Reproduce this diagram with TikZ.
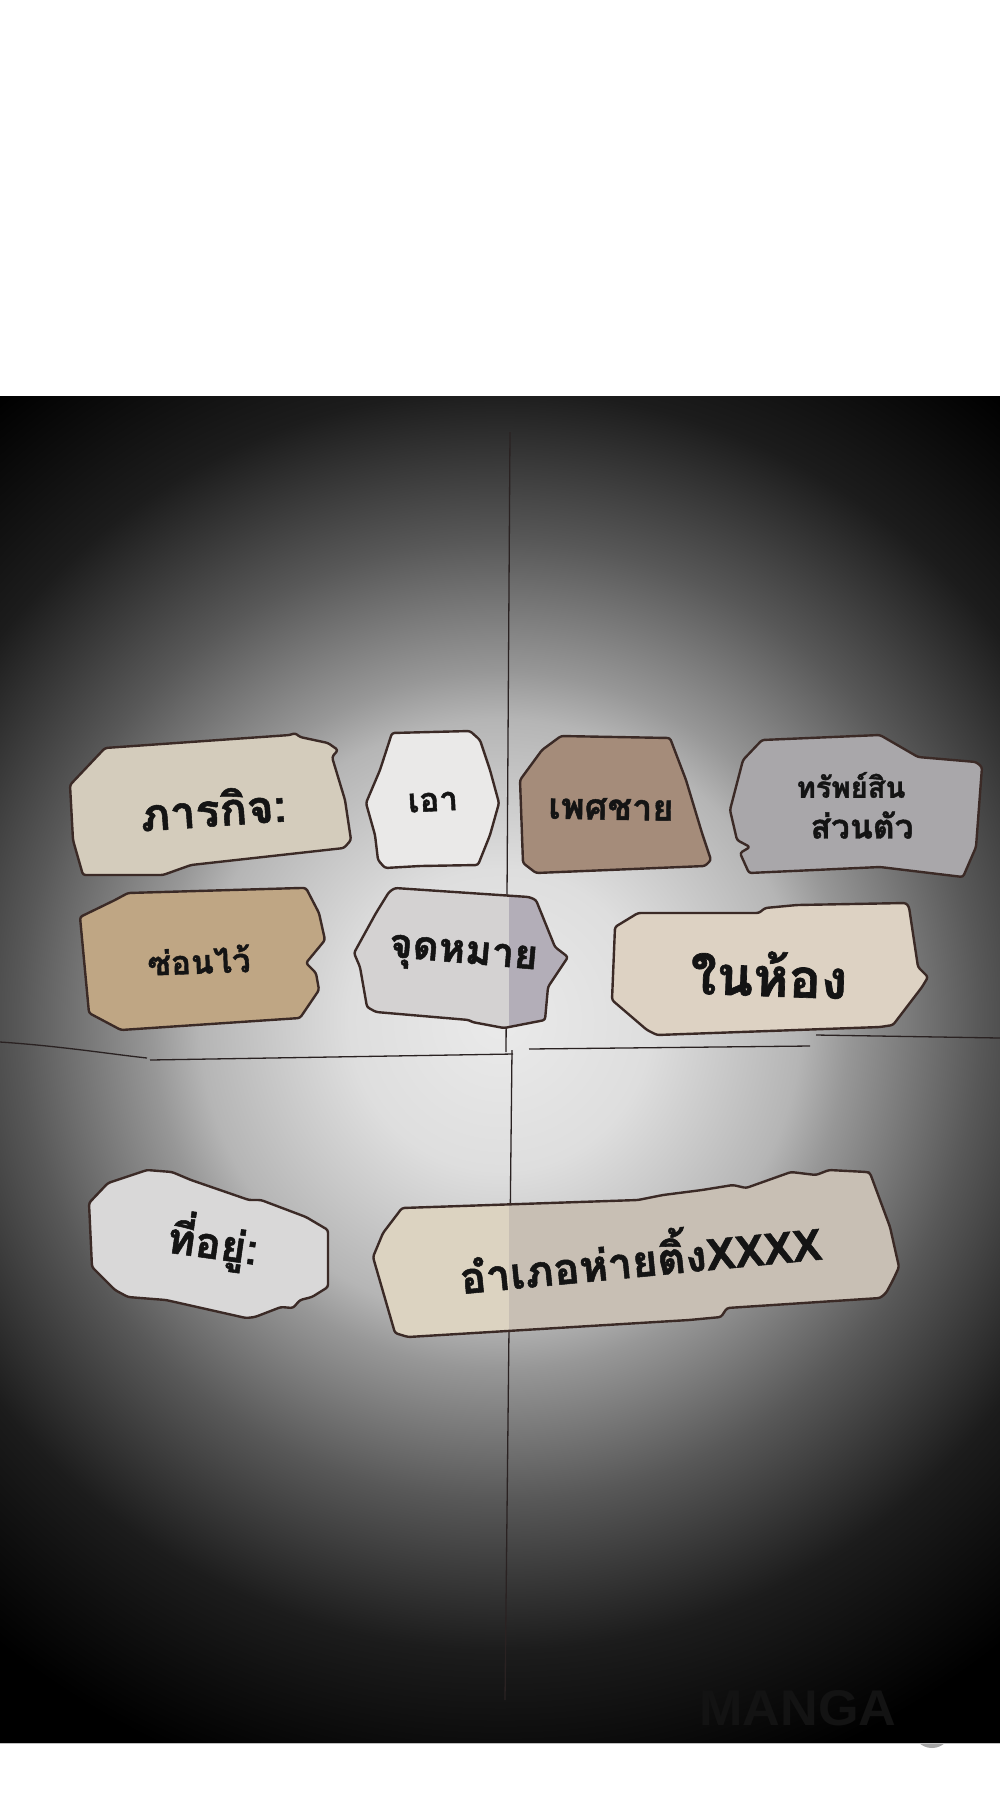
\documentclass[tikz,border=0pt]{standalone}
\usepackage{fontspec}
\newfontfamily\thaifont[Script=Thai, BoldFeatures={FakeBold=1.2}]{Loma}
\setsansfont{Liberation Sans}
\begin{document}
\definecolor{v0}{HTML}{EAEAEA}
\definecolor{v1}{HTML}{DEDEDE}
\definecolor{v2}{HTML}{B5B5B5}
\definecolor{v3}{HTML}{979797}
\definecolor{v4}{HTML}{585858}
\definecolor{v5}{HTML}{1C1C1C}
\definecolor{outl}{HTML}{3B2A26}
\definecolor{crease}{HTML}{2A2222}
\definecolor{txt}{HTML}{141414}
\definecolor{wmark}{HTML}{131313}
\definecolor{f1}{HTML}{D4CCBC}
\definecolor{f2}{HTML}{EAE9E8}
\definecolor{f3}{HTML}{A58C7A}
\definecolor{f4}{HTML}{A9A7AA}
\definecolor{f5}{HTML}{BFA684}
\definecolor{f6a}{HTML}{D4D2D2}
\definecolor{f6b}{HTML}{B3AEB8}
\definecolor{f7}{HTML}{DDD2C3}
\definecolor{f8}{HTML}{D9D8D8}
\definecolor{f9a}{HTML}{DCD3C1}
\definecolor{f9b}{HTML}{C8BFB4}
\pgfdeclareradialshading{vign}{\pgfpoint{0bp}{0bp}}{color(0bp)=(v0); color(4.7bp)=(v1); color(9.4bp)=(v2); color(10.9bp)=(v3); color(15bp)=(v4); color(19.7bp)=(v5); color(25bp)=(black); color(50bp)=(black)}
\begin{tikzpicture}[x=1pt,y=-1pt,
  paper/.style={draw=outl, line width=2.4pt, line join=round, rounded corners=2.5pt},
  creaseline/.style={draw=crease, line width=1.3pt},
  label/.style={inner sep=0pt, text=txt, font=\thaifont\bfseries}]
\useasboundingbox (0,0) rectangle (1000,1800);
\fill[white] (0,0) rectangle (1000,1800);
% dark vignette panel
\begin{scope}
  \clip (0,396) rectangle (1000,1743);
  \shade[shading=vign] (-300,220) rectangle (1300,1820);
  % watermark
  \node[inner sep=0pt, text=wmark, font=\sffamily\bfseries] (wm) at (798,1708) {\resizebox{197pt}{35pt}{MANGA}};
\end{scope}
% small grey disc peeking below panel
\begin{scope}
  \clip (0,1743) rectangle (1000,1800);
  \fill[black!35] (932,1729) circle (19);
\end{scope}
\draw[black!25, line width=0.8pt] (0,1743.5) -- (1000,1743.5);
% crease lines
\coordinate (vt) at (510,432);
\coordinate (vm1) at (506,1052);
\coordinate (vm2) at (512,1050);
\coordinate (vb) at (505,1700);
\coordinate (h1a) at (0,1042);
\coordinate (h1b) at (147,1058);
\coordinate (h2a) at (150,1060);
\coordinate (h2b) at (513,1054);
\coordinate (h3a) at (529,1049);
\coordinate (h3b) at (810,1046);
\coordinate (h4a) at (816,1035);
\coordinate (h4b) at (1000,1038);
\path[creaseline] (vt) -- (vm1);
\path[creaseline] (vm2) -- (vb);
\path[creaseline] (h1a) .. controls (60,1046) and (110,1054) .. (h1b);
\path[creaseline] (h2a) -- (h2b);
\path[creaseline] (h3a) -- (h3b);
\path[creaseline] (h4a) -- (h4b);
% paper pieces
\path[paper, fill=f1] (105,748) -- (290,735) -- (295,733) -- (300,737) -- (328,743) -- (338,750) -- (332,757) -- (345,800) -- (351,840) -- (344,848) -- (191,865) -- (163,875) -- (83,875) -- (73,840) -- (70,785) -- cycle;
\path[paper, fill=f2] (392,733) -- (470,731) -- (480,740) -- (490,770) -- (499,803) -- (490,835) -- (478,865) -- (420,866) -- (385,868) -- (378,860) -- (375,835) -- (366,803) -- (380,770) -- cycle;
\path[paper, fill=f3] (561,736) -- (670,738) -- (686,780) -- (702,833) -- (711,860) -- (705,866) -- (536,873) -- (523,863) -- (520,780) -- (542,750) -- cycle;
\path[paper, fill=f4] (762,740) -- (880,735) -- (918,757) -- (976,762) -- (982,767) -- (976,847) -- (963,877) -- (880,867) -- (749,873) -- (740,853) -- (750,847) -- (737,840) -- (730,810) -- (743,760) -- cycle;
\path[paper, fill=f5] (115,900) -- (128,893) -- (300,888) -- (306,888) -- (319,913) -- (325,940) -- (306,963) -- (316,973) -- (319,990) -- (300,1018) -- (121,1030) -- (89,1013) -- (80,917) -- cycle;
\def\boxsix{(389,892) -- (395,888) -- (529,897) -- (536,900) -- (555,947) -- (568,957) -- (548,987) -- (545,1020) -- (504,1028) -- (472,1022) -- (469,1020) -- (376,1012) -- (367,1007) -- (360,967) -- (354,953) -- (376,913) -- cycle}
\begin{scope}
  \clip[rounded corners=2.5pt] \boxsix;
  \fill[f6a] (340,880) rectangle (600,1040);
  \fill[f6b] (509,880) rectangle (600,1040);
\end{scope}
\path[paper] \boxsix;
\path[paper, fill=f7] (638,913) -- (759,913) -- (765,908) -- (797,905) -- (906,903) -- (909,907) -- (918,967) -- (928,977) -- (922,987) -- (893,1025) -- (880,1027) -- (657,1035) -- (647,1030) -- (612,1000) -- (615,927) -- cycle;
\path[paper, fill=f8] (147,1170) -- (172,1172) -- (191,1180) -- (249,1200) -- (261,1200) -- (306,1217) -- (328,1230) -- (328,1287) -- (312,1297) -- (300,1300) -- (293,1308) -- (281,1307) -- (255,1317) -- (246,1318) -- (166,1300) -- (128,1297) -- (115,1290) -- (92,1267) -- (89,1203) -- (108,1183) -- cycle;
\def\boxnine{(402,1208) -- (638,1200) -- (663,1195) -- (702,1190) -- (733,1185) -- (746,1188) -- (791,1172) -- (816,1175) -- (829,1170) -- (867,1172) -- (870,1173) -- (890,1227) -- (899,1267) -- (893,1280) -- (886,1293) -- (880,1298) -- (727,1308) -- (721,1317) -- (689,1320) -- (408,1337) -- (395,1333) -- (373,1257) -- (383,1233) -- cycle}
\begin{scope}
  \clip[rounded corners=2.5pt] \boxnine;
  \fill[f9a] (360,1160) rectangle (910,1345);
  \fill[f9b] (509,1160) rectangle (910,1345);
\end{scope}
\path[paper] \boxnine;
% texts
\node[label, rotate=4] (t1) at (213,808) {\resizebox{146pt}{!}{ภารกิจ:}};
\node[label, rotate=3] (t2) at (433,802) {\resizebox{50pt}{!}{เอา}};
\node[label, rotate=-1] (t3) at (611,809) {\resizebox{125pt}{!}{เพศชาย}};
\node[label] (t4a) at (851,785) {\resizebox{109pt}{!}{ทรัพย์สิน}};
\node[label] (t4b) at (862,825) {\resizebox{103pt}{!}{ส่วนตัว}};
\node[label, rotate=2] (t5) at (199,960) {\resizebox{103pt}{!}{ซ่อนไว้}};
\node[label, rotate=-5] (t6) at (463,957) {\resizebox{149pt}{!}{จุดหมาย}};
\node[label, rotate=-2] (t7) at (769,974) {\resizebox{157pt}{!}{ในห้อง}};
\node[label, rotate=-8] (t8) at (213,1242) {\resizebox{91pt}{!}{ที่อยู่:}};
\node[label, rotate=5.5] (t9) at (640,1254) {\resizebox{363pt}{!}{อำเภอห่ายติ้งXXXX}};
\end{tikzpicture}
\end{document}
